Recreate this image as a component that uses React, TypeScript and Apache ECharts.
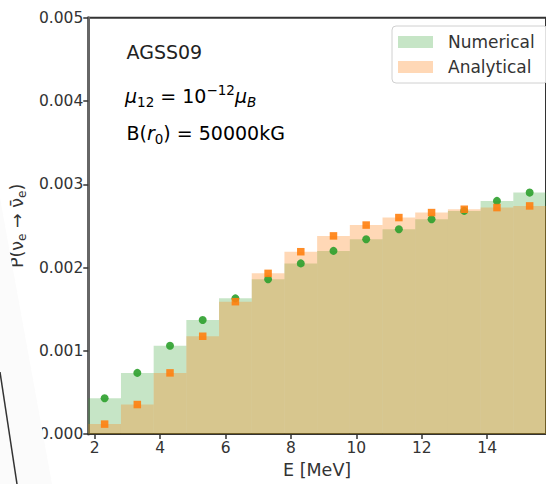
import React, { useEffect, useRef } from "react";
import * as echarts from "echarts";

const energies = [2.3, 3.3, 4.3, 5.3, 6.3, 7.3, 8.3, 9.3, 10.3, 11.3, 12.3, 13.3, 14.3, 15.3];
const numerical = [0.00043, 0.000735, 0.00106, 0.00137, 0.00163, 0.00186, 0.00205, 0.0022, 0.00234, 0.00246, 0.00258, 0.00268, 0.0028, 0.0029];
const analytical = [0.00012, 0.000355, 0.000735, 0.001175, 0.00159, 0.00193, 0.00219, 0.00238, 0.00251, 0.0026, 0.00266, 0.0027, 0.00272, 0.00274];
const xTicks = [2, 4, 6, 8, 10, 12, 14];
const binWidth = 1;

const FONT = "DejaVu Sans";
const greenFill = "rgba(44,160,44,0.27)";
const orangeFill = "rgba(255,127,14,0.3)";

function stepSeries(name: string, values: number[], color: string, z: number) {
  return {
    name,
    type: "custom",
    z,
    itemStyle: { color },
    data: energies.map((e, i) => [e, values[i]]),
    renderItem: (params: any, api: any) => {
      const x = api.value(0);
      const y = api.value(1);
      const p1 = api.coord([x - binWidth / 2, y]);
      const p0 = api.coord([x + binWidth / 2, 0]);
      return {
        type: "rect",
        shape: { x: p1[0], y: p1[1], width: p0[0] - p1[0], height: p0[1] - p1[1] },
        style: { fill: color },
      };
    },
  };
}

export default function App() {
  const ref = useRef<HTMLDivElement>(null);
  useEffect(() => {
    if (!ref.current) return;
    const chart = echarts.init(ref.current, null, { renderer: "svg" });
    const subStyle = { fontSize: 12, lineHeight: 12, verticalAlign: "bottom", fontFamily: FONT, color: "#222" };
    chart.setOption({
      animation: false,
      backgroundColor: "#fff",
      textStyle: { fontFamily: FONT },
      grid: {
        left: 86,
        top: 17.7,
        bottom: 46.3,
        right: -7.6,
        show: true,
        borderColor: "#333",
        borderWidth: 2,
        backgroundColor: "transparent",
      },
      legend: {
        data: ["Numerical", "Analytical"],
        orient: "vertical",
        left: 392,
        top: 26,
        icon: "rect",
        itemWidth: 35,
        itemHeight: 12,
        itemGap: 5,
        padding: [6, 13, 6, 6],
        borderColor: "#d0d0d0",
        borderWidth: 1,
        borderRadius: 4,
        backgroundColor: "rgba(255,255,255,0.85)",
        textStyle: { fontSize: 17, lineHeight: 20, padding: [0, 0, 0, 10], color: "#333", fontFamily: FONT },
      },
      xAxis: {
        type: "value",
        min: 1.8,
        max: 15.8,
        name: "E [MeV]",
        nameLocation: "middle",
        nameGap: 26,
        nameTextStyle: { fontSize: 17.5, color: "#333", fontFamily: FONT },
        axisLine: { show: true, lineStyle: { color: "#333", width: 2 } },
        axisTick: { show: true, customValues: xTicks, length: 5, lineStyle: { color: "#333", width: 1.5 } },
        axisLabel: { customValues: xTicks, fontSize: 15.5, color: "#333", margin: 6, fontFamily: FONT },
        splitLine: { show: false },
      },
      yAxis: {
        type: "value",
        min: 0,
        max: 0.005,
        interval: 0.001,
        name: "{t|P(ν}{s|e}{t| → ν̄}{s|e}{t|)}",
        nameLocation: "middle",
        nameRotate: 90,
        nameGap: 52,
        nameTextStyle: {
          rich: {
            t: { fontSize: 17.5, lineHeight: 22, color: "#333", fontFamily: FONT, verticalAlign: "middle" },
            s: { fontSize: 12, lineHeight: 13, color: "#333", fontFamily: FONT, verticalAlign: "bottom" },
          },
        },
        axisLine: { show: true, lineStyle: { color: "#666", width: 3 } },
        axisTick: { show: true, length: 5, lineStyle: { color: "#333", width: 1.5 } },
        axisLabel: {
          fontSize: 15.5,
          color: "#333",
          margin: 5,
          fontFamily: FONT,
          formatter: (v: number) => v.toFixed(3),
        },
        splitLine: { show: false },
      },
      series: [
        stepSeries("Numerical", numerical, greenFill, 1),
        stepSeries("Analytical", analytical, orangeFill, 2),
        {
          name: "Numerical points",
          type: "scatter",
          z: 3,
          symbol: "circle",
          symbolSize: 8,
          itemStyle: { color: "#2ca02c", opacity: 0.9 },
          data: energies.map((e, i) => [e, numerical[i]]),
        },
        {
          name: "Analytical points",
          type: "scatter",
          z: 4,
          symbol: "rect",
          symbolSize: 7.5,
          itemStyle: { color: "#ff7f0e", opacity: 0.9 },
          data: energies.map((e, i) => [e, analytical[i]]),
        },
      ],
      graphic: [
        {
          type: "text",
          left: 126.5,
          top: 42,
          z: 10,
          style: { text: "AGSS09", fontSize: 19, fill: "#222", fontFamily: FONT },
        },
        {
          type: "text",
          left: 125,
          top: 83,
          z: 10,
          style: {
            text: "{mu|μ}{sub|12}{t| = 10}{sup|−12}{mu|μ}{subi|B}",
            rich: {
              t: { fontSize: 19, lineHeight: 26, fontFamily: FONT, color: "#222", verticalAlign: "middle" },
              mu: { fontSize: 19, lineHeight: 26, fontFamily: FONT, color: "#222", fontStyle: "italic", verticalAlign: "middle" },
              sub: { ...subStyle, fontSize: 13.5 },
              subi: { ...subStyle, fontSize: 13.5, fontStyle: "italic" },
              sup: { fontSize: 13.5, lineHeight: 14, verticalAlign: "top", fontFamily: FONT, color: "#222" },
            },
          },
        },
        {
          type: "text",
          left: 126.5,
          top: 123,
          z: 10,
          style: {
            text: "{t|B(}{r|r}{sub|0}{t|) = 50000kG}",
            rich: {
              t: { fontSize: 19, lineHeight: 26, fontFamily: FONT, color: "#222", verticalAlign: "middle" },
              r: { fontSize: 19, lineHeight: 26, fontFamily: FONT, color: "#222", fontStyle: "italic", verticalAlign: "middle" },
              sub: { ...subStyle, fontSize: 13.5 },
            },
          },
        },
        {
          type: "polygon",
          z: 20,
          silent: true,
          shape: { points: [[0, 198], [52, 484], [0, 484]] },
          style: { fill: "#fbfbfb" },
        },
        {
          type: "line",
          z: 21,
          silent: true,
          shape: { x1: 0, y1: 372, x2: 17, y2: 484 },
          style: { stroke: "#333", lineWidth: 1.5 },
        },
      ],
    });
    return () => chart.dispose();
  }, []);
  return <div ref={ref} style={{ position: "fixed", left: 0, top: 0, width: 546, height: 484 }} />;
}
